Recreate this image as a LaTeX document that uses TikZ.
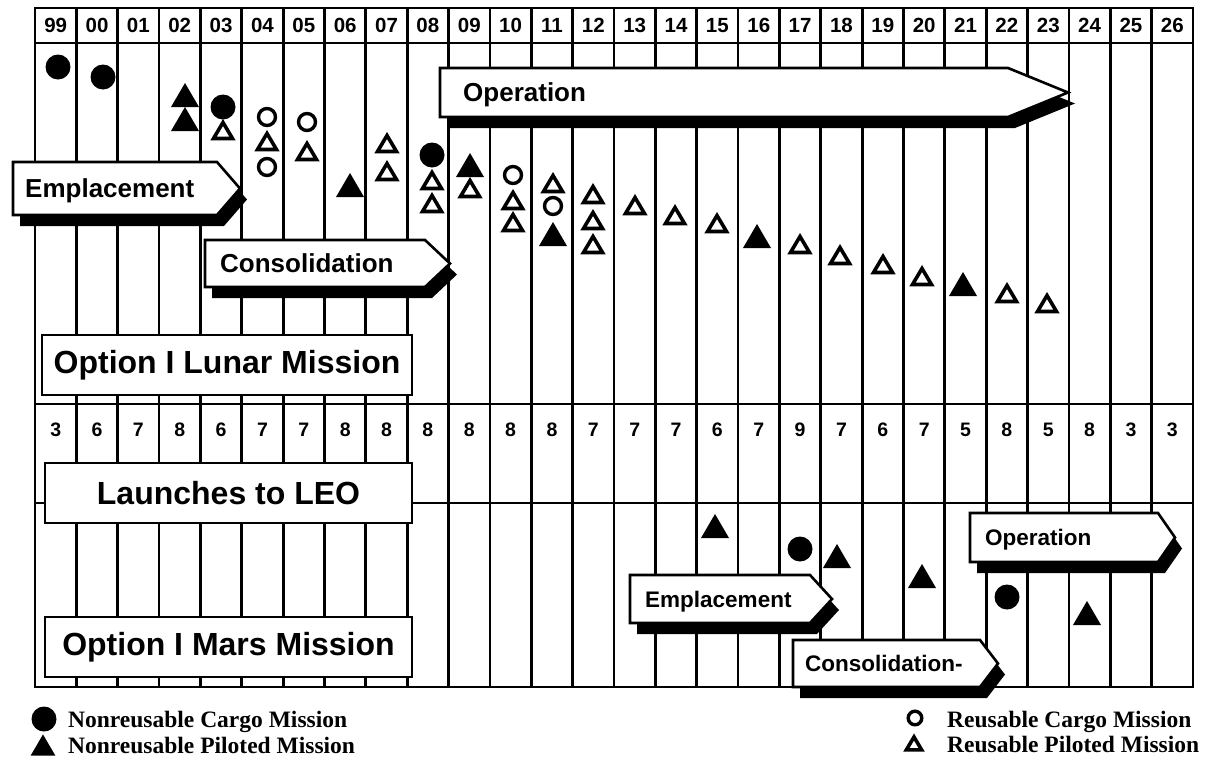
\documentclass[tikz,border=0pt]{standalone}
\usepackage{fontspec}
\setmainfont{Liberation Serif}
\setsansfont{Liberation Sans}
\definecolor{chartInk}{HTML}{000000}
\definecolor{chartPaper}{HTML}{FFFFFF}
\tikzset{
  grid line/.style={draw=chartInk, line width=2.8pt},
  year cell/.style={font=\sffamily\bfseries\fontsize{20.5}{22}\selectfont, inner sep=0pt},
  launch count/.style={font=\sffamily\bfseries\fontsize{19.5}{21}\selectfont, inner sep=0pt},
  title box/.style={
    rectangle, draw=chartInk, fill=chartPaper,
    line width=2.4pt, inner sep=0pt,
    minimum width=367pt, minimum height=60pt,
    font=\sffamily\bfseries\fontsize{32}{34}\selectfont,
  },
  phase edge/.style={draw=chartInk, fill=chartPaper, line width=2.6pt, line join=miter},
  phase shadow/.style={fill=chartInk, xshift=7pt, yshift=-11pt},
  phase big/.style={font=\sffamily\bfseries\fontsize{26}{28}\selectfont, text height=18.7pt},
  phase small/.style={font=\sffamily\bfseries\fontsize{22.5}{24}\selectfont, text height=16.2pt},
  legend text/.style={font=\bfseries\fontsize{23.5}{25}\selectfont, anchor=base west, inner sep=0pt},
  ncargo/.pic={\fill[chartInk] (0,0) circle (12.5);},
  rcargo/.pic={\draw[chartInk, line width=3.4pt] (0,0) circle (8.5);},
  npilot/.pic={\fill[chartInk] (-14,12) -- (0,-12) -- (14,12) -- cycle;},
  rpilot/.pic={\draw[chartInk, line width=3.6pt, line join=miter] (-9.5,8.5) -- (0,-7.5) -- (9.5,8.5) -- cycle;},
}
% phase arrow: name, left, top, bottom, shoulder, tip, text inset, style, label
\newcommand{\phasearrow}[9]{%
  \fill[phase shadow] (#2,#3) -- (#5,#3) -- (#6,{(#3+#4)/2}) -- (#5,#4) -- (#2,#4) -- cycle;
  \draw[phase edge] (#2,#3) -- (#5,#3) -- (#6,{(#3+#4)/2}) -- (#5,#4) -- (#2,#4) -- cycle;
  \node[#8, anchor=west, inner sep=0pt, text depth=0pt] (#1) at ({#2+#7},{(#3+#4)/2}) {#9};
}

\begin{document}
\begin{tikzpicture}[x=1pt, y=-1pt]
\useasboundingbox (0,0) rectangle (1211,761);

%% grid ==============================================================
\foreach \i in {1,...,27}
  \draw[grid line] ({35+41.357*\i},8) -- ({35+41.357*\i},687);
\draw[grid line] (35,8) rectangle (1193,687);
\foreach \y in {43,404,503}
  \draw[grid line] (35,\y) -- (1193,\y);

% years and launches per year
\foreach \lab [count=\i from 0] in {99,00,01,02,03,04,05,06,07,08,09,10,11,12,13,14,15,16,17,18,19,20,21,22,23,24,25,26}
  \node[year cell] (yr\i) at ({55.68+41.357*\i},25.5) {\lab};
\foreach \n [count=\i from 0] in {3,6,7,8,6,7,7,8,8,8,8,8,8,7,7,7,6,7,9,7,6,7,5,8,5,8,3,3}
  \node[launch count] (ln\i) at ({55.68+41.357*\i},430) {\n};

%% title boxes =======================================================
\node[title box, minimum width=370pt] (lunar) at (227,365) {Option I Lunar Mission};
\node[title box] (leo) at (228.5,493) {Launches to LEO};
\node[title box] (mars) at (228.5,647) {Option I Mars Mission};

%% phases ============================================================
\phasearrow{lunEmp}{13}{162}{215}{217}{240}{12}{phase big}{Emplacement}
\phasearrow{lunCon}{205}{240}{287}{425}{450}{15}{phase big}{Consolidation}
\phasearrow{lunOps}{440}{68}{117}{1008}{1068}{23}{phase big}{Operation}
\phasearrow{marEmp}{630}{575}{623}{810}{832}{15}{phase small}{Emplacement}
\phasearrow{marCon}{793}{640}{687}{980}{998}{12}{phase small}{Consolidation-}
\phasearrow{marOps}{970}{513}{562}{1158}{1175}{15}{phase small}{Operation}

%% missions ==========================================================
% lunar
\foreach \x/\y in {58/67,103/77,223/107,432/155}
  \pic at (\x,\y) {ncargo};
\foreach \x/\y in {267/117,267/167,307/122,513/175,553/206}
  \pic at (\x,\y) {rcargo};
\foreach \x/\y in {185/95,185/119,350/185,470/165,553/234,757/236,963/284}
  \pic at (\x,\y) {npilot};
\foreach \x/\y in {223/130,267/141,307/151,387/143,387/171,432/180,432/203,470/188,513/200,513/222,
                   553/183,593/194,593/220,593/244,635/205,675/215,717/223,800/244,840/255,
                   883/264,922/276,1007/293,1047/303}
  \pic at (\x,\y) {rpilot};
% mars
\foreach \x/\y in {800/549,1007/597}
  \pic at (\x,\y) {ncargo};
\foreach \x/\y in {715/526,837/556,922/576,1087/613}
  \pic at (\x,\y) {npilot};

%% legend ============================================================
\pic at (44,719) {ncargo};
\pic[scale=0.88] at (43,745) {npilot};
\pic[scale=0.8] at (915,718) {rcargo};
\pic[scale=0.8] at (914,743) {rpilot};
\node[legend text] (lgNC) at (68,727) {Nonreusable Cargo Mission};
\node[legend text] (lgNP) at (68,753) {Nonreusable Piloted Mission};
\node[legend text] (lgRC) at (947,727) {Reusable Cargo Mission};
\node[legend text] (lgRP) at (947,752) {Reusable Piloted Mission};

\end{tikzpicture}
\end{document}
